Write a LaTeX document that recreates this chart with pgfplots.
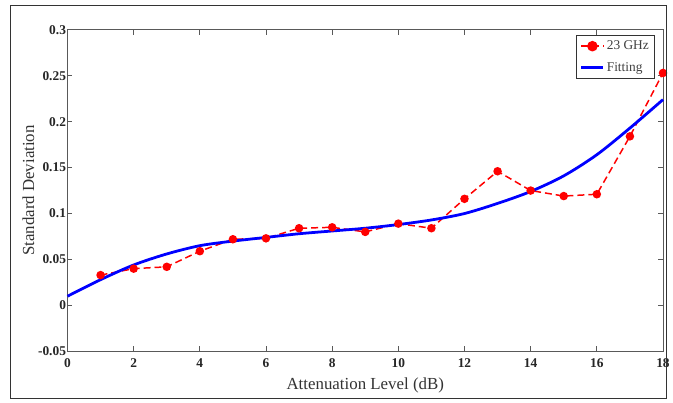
\documentclass[border=0pt]{standalone}
\usepackage{fontspec}
\setmainfont{Liberation Serif}
\usepackage{pgfplots}
\pgfplotsset{compat=1.18}
\begin{document}
\begin{tikzpicture}
\begin{axis}[
  scale only axis,
  width=600pt, height=324pt,
  xmin=0, xmax=18, ymin=-0.05, ymax=0.3,
  xtick={0,2,...,18},
  ytick={-0.05,0,0.05,0.1,0.15,0.2,0.25,0.3},
  yticklabels={-0.05,0,0.05,0.1,0.15,0.2,0.25,0.3},
  /pgf/number format/assume math mode=true,
  tick label style={font=\fontsize{13.5}{15}\selectfont\bfseries, text=black!85},
  xticklabel style={yshift=-4pt},
  yticklabel style={xshift=2pt},
  label style={font=\fontsize{17}{19}\selectfont, text=black!80},
  xlabel={Attenuation Level (dB)},
  ylabel={Standard Deviation},
  xlabel style={yshift=-3pt},
  ylabel style={yshift=-3pt},
  axis line style={black!65, line width=0.8pt},
  tick style={black!65, line width=0.8pt},
  tick align=inside,
  major tick length=5pt,
  clip=false,
  legend style={at={(0.987,0.985)}, anchor=north east, draw=black!80, line width=0.9pt,
    font=\fontsize{13.5}{15}\selectfont, text=black!75, inner sep=4pt, row sep=7pt},
  legend image post style={scale=1.3},
  legend cell align=left,
]
\addplot[red, line width=1.5pt, dash pattern=on 7pt off 4pt, mark=*, mark size=3.5pt, mark options={solid}]
coordinates {
(1,0.033)(2,0.040)(3,0.042)(4,0.059)(5,0.072)(6,0.073)(7,0.084)(8,0.085)(9,0.080)
(10,0.089)(11,0.084)(12,0.116)(13,0.146)(14,0.125)(15,0.119)(16,0.121)(17,0.184)(18,0.253)
};
\addlegendentry{23 GHz}
\addplot[blue, line width=2.8pt, smooth]
coordinates {
(0,0.010)(1,0.028)(2,0.044)(3,0.056)(4,0.065)(5,0.070)(6,0.074)(7,0.078)(8,0.081)
(9,0.084)(10,0.088)(11,0.093)(12,0.100)(13,0.111)(14,0.124)(15,0.141)(16,0.164)(17,0.193)(18,0.224)
};
\addlegendentry{Fitting}
\end{axis}
\draw[black!80, line width=0.8pt] ([shift={(-58pt,-47pt)}]current axis.south west) rectangle ([shift={(3pt,25pt)}]current axis.north east);
\path ([shift={(-68pt,-52pt)}]current axis.south west) rectangle ([shift={(5pt,30pt)}]current axis.north east);
\end{tikzpicture}
\end{document}
